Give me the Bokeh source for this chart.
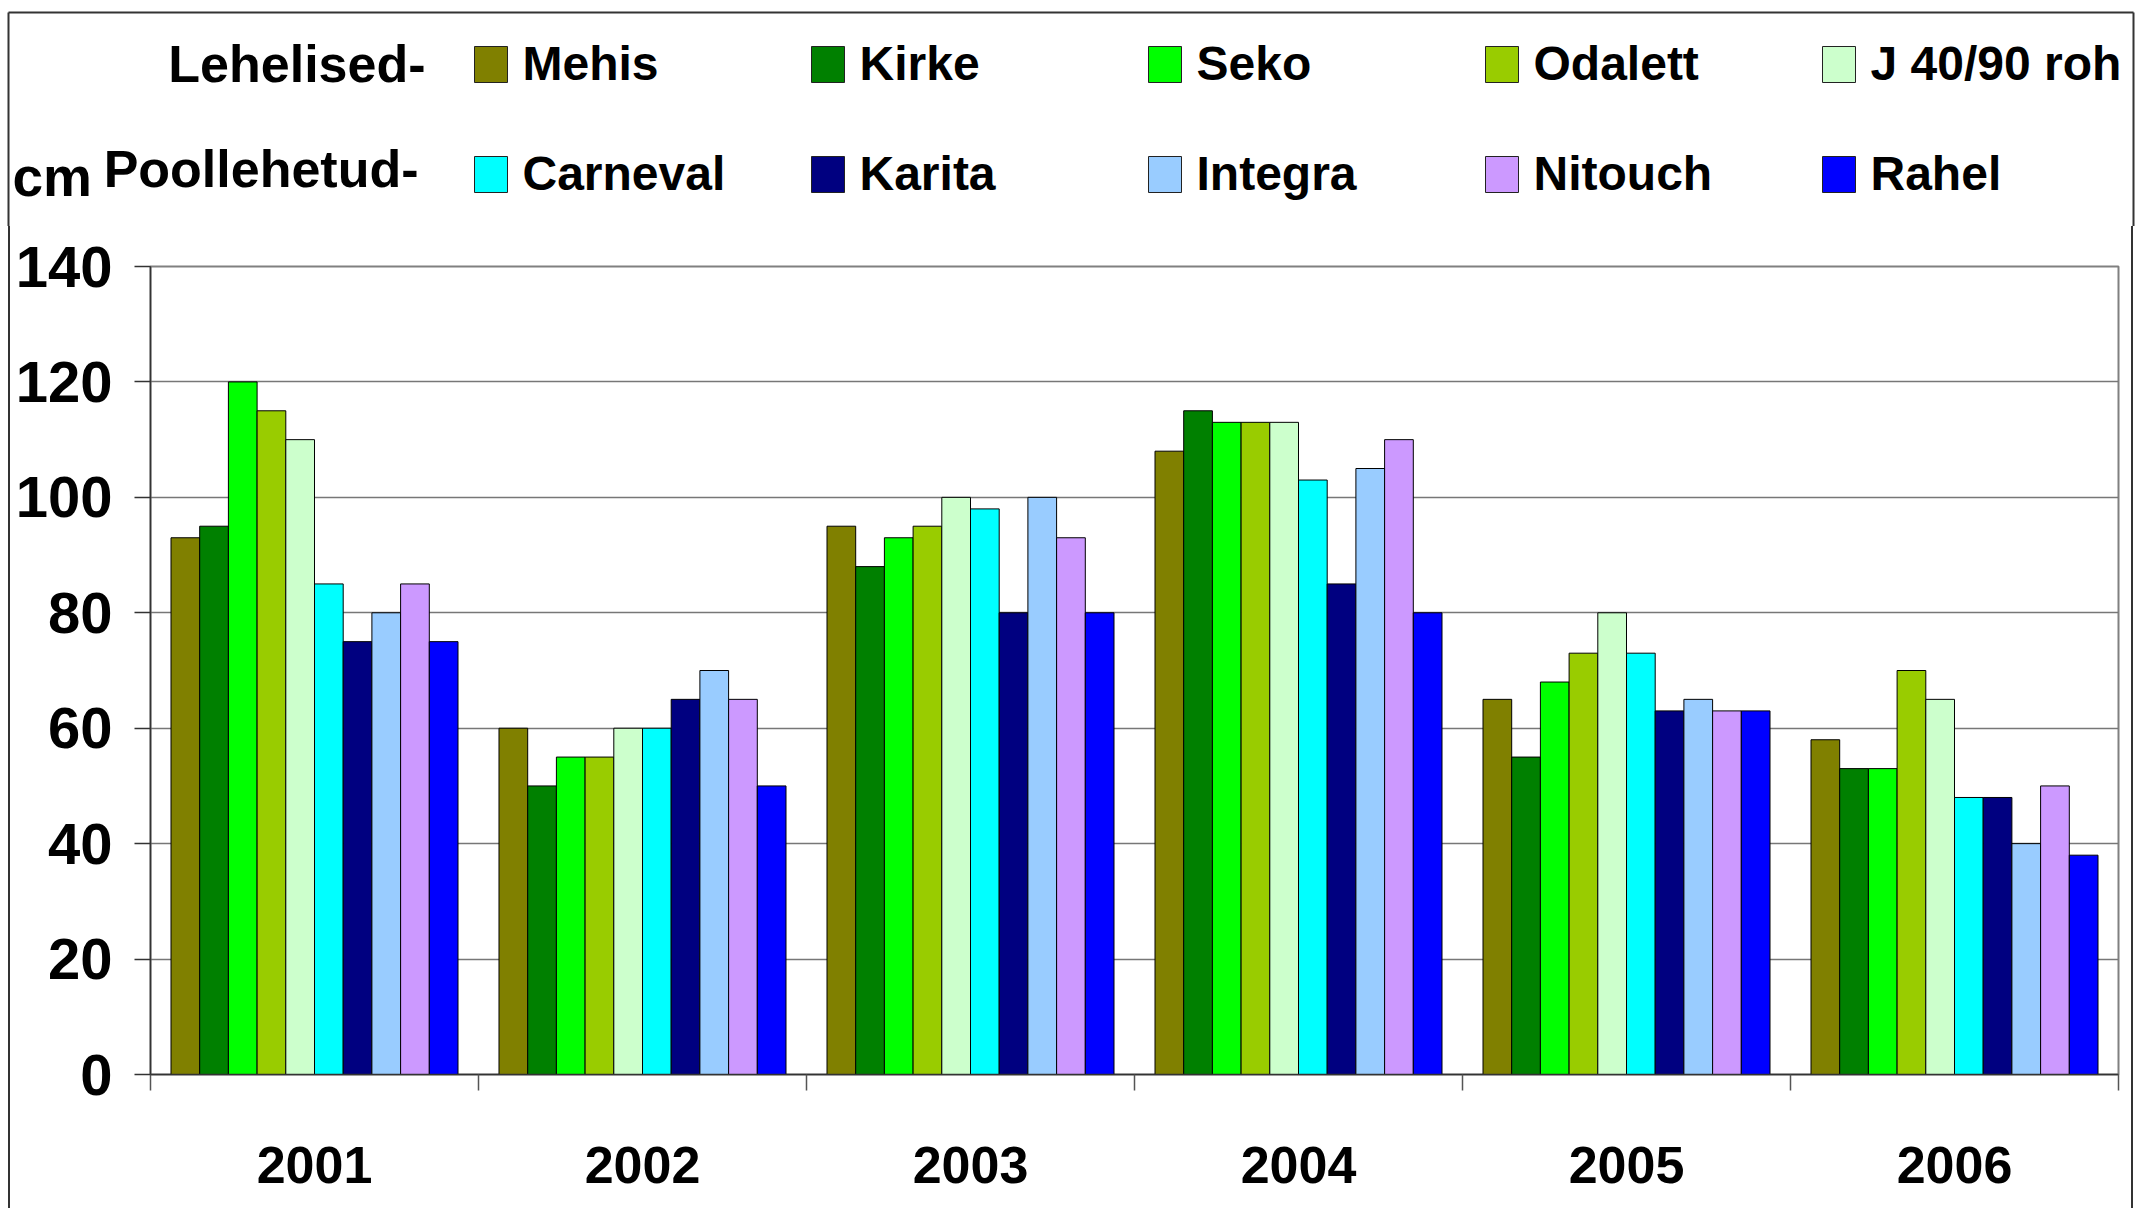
from bokeh.plotting import figure
from bokeh.models import FixedTicker, Range1d
from bokeh.core.properties import value
from bokeh.embed import file_html
from bokeh.resources import INLINE

# ---------------- data ----------------
years = ["2001", "2002", "2003", "2004", "2005", "2006"]
varieties = ["Mehis", "Kirke", "Seko", "Odalett", "J 40/90 roh",
             "Carneval", "Karita", "Integra", "Nitouch", "Rahel"]
colors = ["#808000", "#008000", "#00FF00", "#99CC00", "#CCFFCC",
          "#00FFFF", "#000080", "#99CCFF", "#CC99FF", "#0000FF"]

mehis    = [93, 60, 95, 108, 65, 58]
kirke    = [95, 50, 88, 115, 55, 53]
seko     = [120, 55, 93, 113, 68, 53]
odalett  = [115, 55, 95, 113, 73, 70]
j4090    = [110, 60, 100, 113, 80, 65]
carneval = [85, 60, 98, 103, 73, 48]
karita   = [75, 65, 80, 85, 63, 48]
integra  = [80, 70, 100, 105, 65, 40]
nitouch  = [85, 65, 93, 110, 63, 50]
rahel    = [75, 50, 80, 80, 63, 38]
series = [mehis, kirke, seko, odalett, j4090, carneval, karita, integra, nitouch, rahel]

y_ticks = [0, 20, 40, 60, 80, 100, 120, 140]
group_labels = ["Lehelised-", "Poollehetud-"]
unit_label = "cm"

# ---------------- layout ----------------
W = 2140
TOP_H = 226
MAIN_H = 982
FL, FR, FT, FB = 150, 2118, 266, 1074   # plot frame edges, page px
BL, BR, BT = 8, 2133, 12                # outer chart border
YMAX = 140
NCAT = len(years)
FONT = "Liberation Sans"
BORDER = "#333333"

# ---------- header (legend) figure in pixel coordinates ----------
head = figure(width=W, height=TOP_H, output_backend="svg", toolbar_location=None,
              x_range=Range1d(0, W), y_range=Range1d(TOP_H, 0),
              x_axis_location=None, y_axis_location=None, min_border=0)
head.grid.grid_line_color = None
head.outline_line_color = None
head.background_fill_color = "white"
head.border_fill_color = "white"

# outer border (upper part)
head.segment(x0=[BL, BL, BR], y0=[BT, BT, BT], x1=[BR, BL, BR], y1=[BT, TOP_H, TOP_H],
             line_color=BORDER, line_width=2)

col_step, row_step = 337, 110
sw_left, sw_w, sw_top, sw_h = 474, 33, 46, 36
txt_left, txt_mid = 522, 63
lefts = [sw_left + (i % 5) * col_step for i in range(len(varieties))]
tops = [sw_top + (i // 5) * row_step for i in range(len(varieties))]
head.quad(left=lefts, right=[l + sw_w for l in lefts],
          top=tops, bottom=[t + sw_h for t in tops],
          fill_color=colors, line_color="#222222", line_width=1)
head.text(x=[txt_left + (i % 5) * col_step for i in range(len(varieties))],
          y=[txt_mid + (i // 5) * row_step for i in range(len(varieties))],
          text=varieties, text_align="left", text_baseline="middle",
          text_font=value(FONT), text_font_style="bold",
          text_font_size="48px", text_color="black")
head.text(x=[425, 418], y=[63, 168], text=group_labels, text_align="right",
          text_baseline="middle", text_font=value(FONT),
          text_font_style="bold", text_font_size="52px", text_color="black")
head.text(x=[12], y=[176], text=[unit_label], text_align="left",
          text_baseline="middle", text_font=value(FONT),
          text_font_style="bold", text_font_size="55px", text_color="black")

# ---------- main chart ----------
p = figure(width=W, height=MAIN_H, output_backend="svg", toolbar_location=None,
           x_range=Range1d(0, NCAT), y_range=Range1d(0, YMAX),
           min_border_left=FL, min_border_right=W - FR,
           min_border_top=FT - TOP_H, min_border_bottom=TOP_H + MAIN_H - FB,
           styles={"background": (
               f"linear-gradient(to right, transparent {BL}px, {BORDER} {BL}px, "
               f"{BORDER} {BL + 2}px, transparent {BL + 2}px, transparent {BR - 2}px, "
               f"{BORDER} {BR - 2}px, {BORDER} {BR}px, transparent {BR}px)")})
p.background_fill_color = "white"
p.border_fill_alpha = 0
p.outline_line_color = "#808080"
p.outline_line_width = 2

gap = 0.0625
bw = (1 - 2 * gap) / len(varieties)
for i, (name, vals, col) in enumerate(zip(varieties, series, colors)):
    xs = [c + gap + (i + 0.5) * bw for c in range(NCAT)]
    p.vbar(x=xs, top=vals, bottom=0, width=bw, fill_color=col,
           line_color="black", line_width=1)

# y axis
p.yaxis.ticker = FixedTicker(ticks=y_ticks)
p.yaxis.major_tick_out = 16
p.yaxis.major_tick_in = 0
p.yaxis.minor_tick_line_color = None
p.yaxis.axis_line_color = "#333333"
p.yaxis.axis_line_width = 1.5
p.yaxis.major_tick_line_color = "#333333"
p.yaxis.major_tick_line_width = 1.5
p.yaxis.major_label_standoff = 22
p.yaxis.major_label_text_font = FONT
p.yaxis.major_label_text_font_style = "bold"
p.yaxis.major_label_text_font_size = "58px"
p.yaxis.major_label_text_color = "black"

# x axis: boundary ticks as minor ticks, year labels at category centres
centres = [c + 0.5 for c in range(NCAT)]
p.xaxis.ticker = FixedTicker(ticks=centres, minor_ticks=list(range(NCAT + 1)))
p.xaxis.major_label_overrides = {c: y for c, y in zip(centres, years)}
p.xaxis.major_tick_out = 0
p.xaxis.major_tick_in = 0
p.xaxis.major_tick_line_color = None
p.xaxis.minor_tick_out = 16
p.xaxis.minor_tick_in = 0
p.xaxis.minor_tick_line_color = "#555555"
p.xaxis.minor_tick_line_width = 1.5
p.xaxis.axis_line_color = "#333333"
p.xaxis.axis_line_width = 1.5
p.xaxis.major_label_standoff = 56
p.xaxis.major_label_text_font = FONT
p.xaxis.major_label_text_font_style = "bold"
p.xaxis.major_label_text_font_size = "52px"
p.xaxis.major_label_text_color = "black"

p.xgrid.grid_line_color = None
p.ygrid.ticker = FixedTicker(ticks=y_ticks)
p.ygrid.grid_line_color = "#777777"
p.ygrid.grid_line_width = 1.5

open("out.html", "w").write(file_html([head, p], INLINE))
